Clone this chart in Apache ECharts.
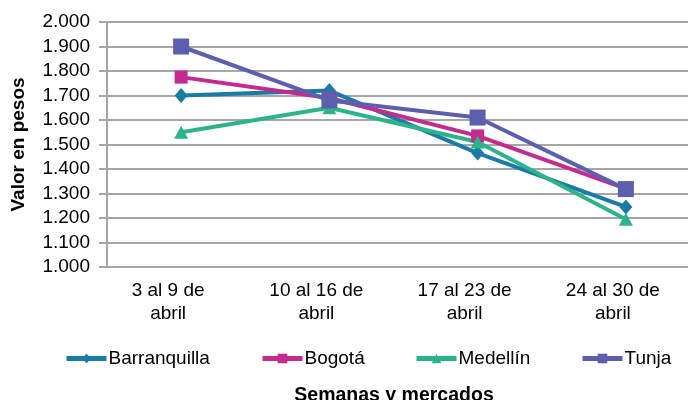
<!DOCTYPE html>
<html><head><meta charset="utf-8">
<script src="https://cdn.jsdelivr.net/npm/echarts@6/dist/echarts.min.js"></script>
<style>html,body{margin:0;padding:0;background:#fff}#c{width:688px;height:400px}</style>
</head><body><div id="c"></div>
<script>
const categories = ['3 al 9 de\nabril', '10 al 16 de\nabril', '17 al 23 de\nabril', '24 al 30 de\nabril'];
const barranquilla = [1700, 1720, 1465, 1245];
const bogota = [1775, 1690, 1535, 1320];
const medellin = [1550, 1650, 1510, 1195];
const tunja = [1900, 1680, 1610, 1318];
const yTicks = {min: 1000, max: 2000, interval: 100};

const font = 'Liberation Sans, Arial, sans-serif';
const names = ['Barranquilla', 'Bogotá', 'Medellín', 'Tunja'];
const colors = ['#1A7BA7', '#C52A8F', '#2DB389', '#5C5FAE'];
const symbols = ['diamond', 'rect', 'triangle', 'rect'];
const sizes = [[13, 15], 13, [14, 13], 16];
const data = [barranquilla, bogota, medellin, tunja];
const legendX = [64, 260, 414, 580];

const chart = echarts.init(document.getElementById('c'), null, {renderer: 'canvas'});
chart.setOption({
  animation: false,
  textStyle: {fontFamily: font},
  grid: {left: 107, top: 22, width: 593, height: 245, containLabel: false, outerBoundsMode: 'none'},
  legend: names.map((n, i) => ({
    data: [n], left: legendX[i], top: 349, itemWidth: 40, itemHeight: 12, itemGap: 0, padding: 0,
    lineStyle: {width: 5},
    textStyle: {fontFamily: font, fontSize: 19, color: '#000', padding: [0, 0, 0, -3]}
  })),
  xAxis: {
    type: 'category', data: categories, boundaryGap: true,
    axisLine: {show: false}, axisTick: {show: false},
    axisLabel: {fontFamily: font, fontSize: 19, color: '#000', lineHeight: 23, margin: 12, interval: 0,
      padding: [0, 26, 0, 0]},
    name: 'Semanas y mercados', nameLocation: 'middle', nameGap: 119,
    nameTextStyle: {fontFamily: font, fontSize: 19.5, fontWeight: 'bold', color: '#000', padding: [0, 0, 0, -19]}
  },
  yAxis: {
    type: 'value', min: yTicks.min, max: yTicks.max, interval: yTicks.interval,
    axisLine: {show: true, lineStyle: {color: '#A6A6A6', width: 2}},
    axisTick: {show: true, length: 8, lineStyle: {color: '#A6A6A6', width: 2}},
    splitLine: {show: true, lineStyle: {color: '#A6A6A6', width: 2}},
    axisLabel: {fontFamily: font, fontSize: 19, color: '#000', margin: 17,
      formatter: v => (v / 1000).toFixed(3)},
    name: 'Valor en pesos', nameLocation: 'middle', nameGap: 79, nameRotate: 90,
    nameTextStyle: {fontFamily: font, fontSize: 19, fontWeight: 'bold', color: '#000'}
  },
  series: names.map((n, i) => ({
    name: n, type: 'line', data: data[i], symbol: symbols[i], symbolSize: sizes[i],
    showAllSymbol: true, color: colors[i],
    lineStyle: {width: 4, color: colors[i]},
    itemStyle: {color: colors[i]}
  }))
});
</script></body></html>
